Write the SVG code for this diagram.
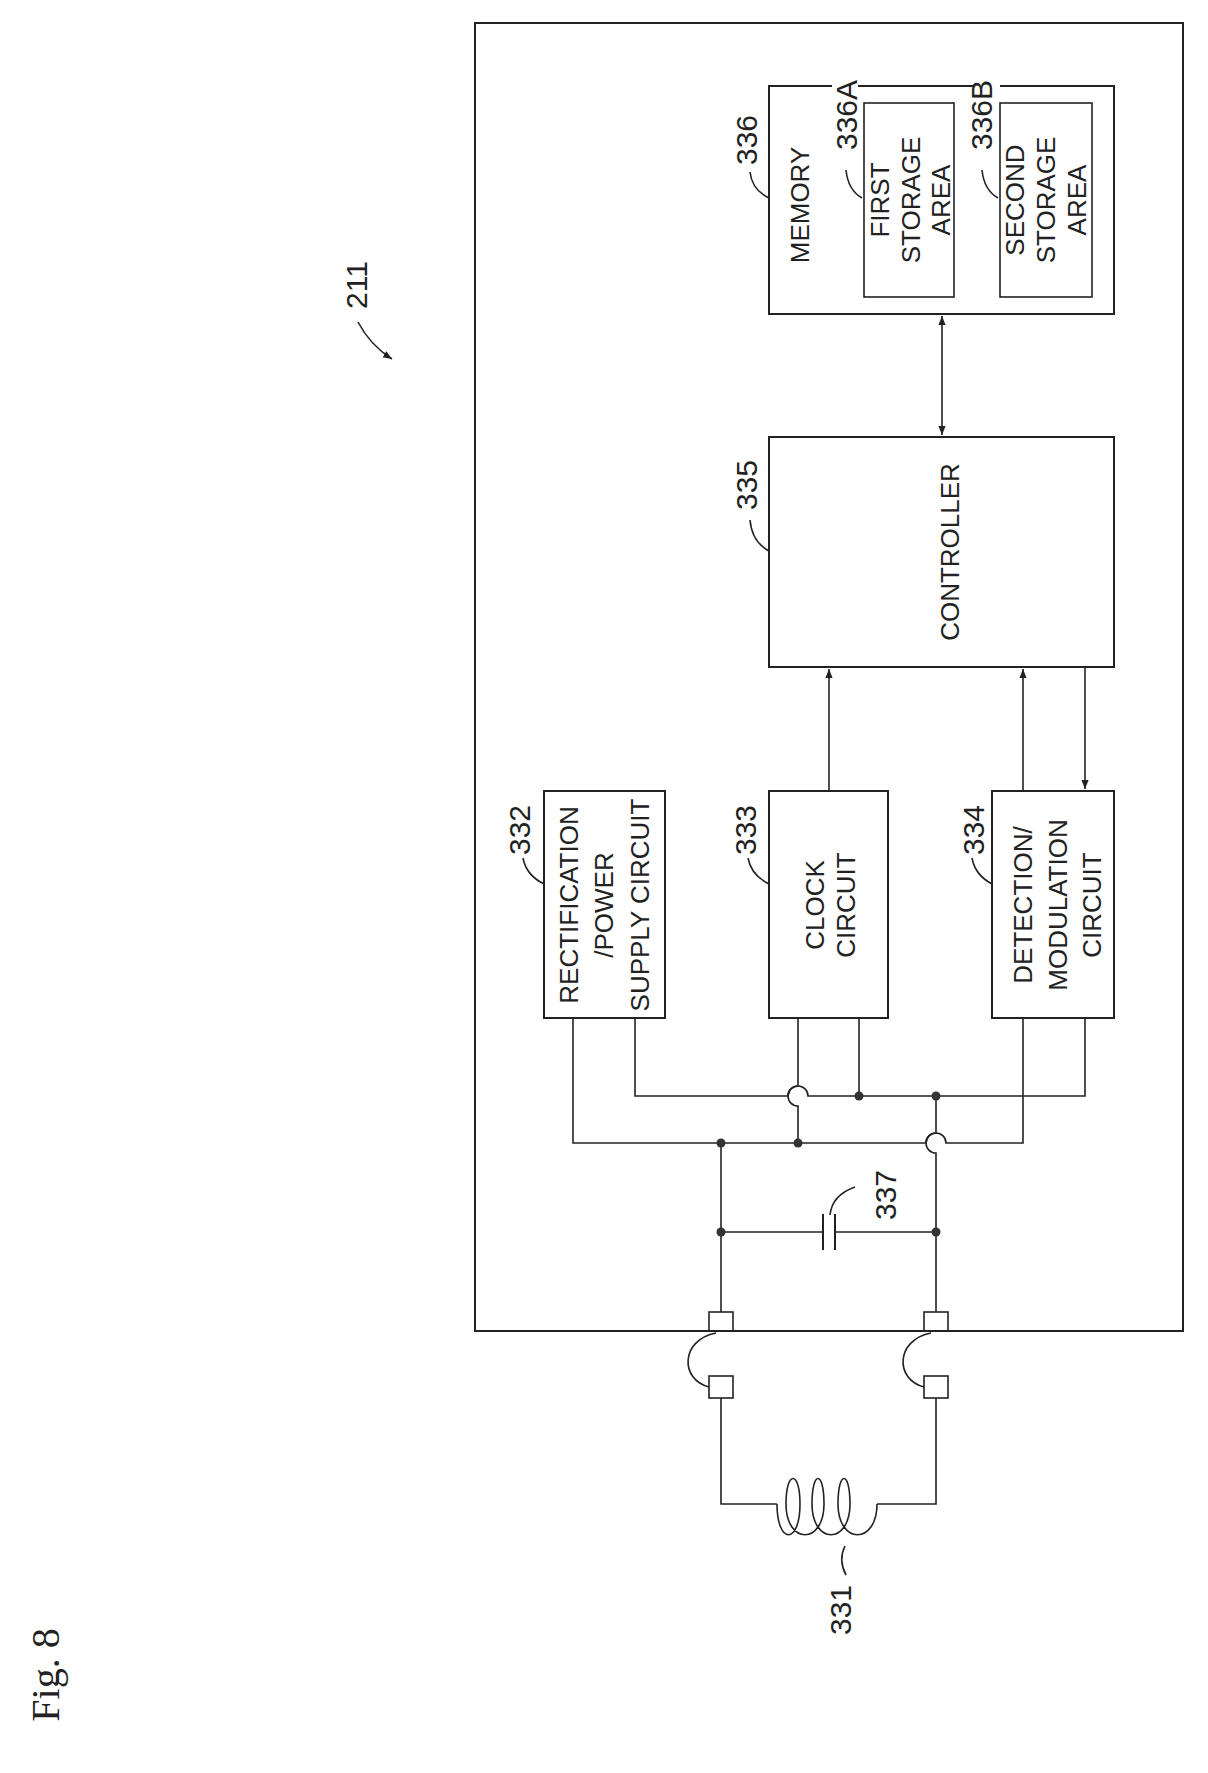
<svg xmlns="http://www.w3.org/2000/svg" width="1208" height="1773" viewBox="0 0 1208 1773">
<defs>
<style>
.b{fill:none;stroke:#222;stroke-width:2}
.w{fill:none;stroke:#222;stroke-width:1.6}
.t{font-family:"Liberation Sans",Arial,sans-serif;font-size:26px;fill:#222;text-anchor:middle;dominant-baseline:central}
.n{font-family:"Liberation Sans",Arial,sans-serif;font-size:30px;fill:#222;text-anchor:middle;dominant-baseline:central}
.d{fill:#333}
</style>
<marker id="a" viewBox="0 0 10 10" refX="10" refY="5" markerWidth="9" markerHeight="9" orient="auto-start-reverse" markerUnits="userSpaceOnUse"><path d="M0,1 L10,5 L0,9 z" fill="#222"/></marker>
</defs>
<rect width="1208" height="1773" fill="#fff"/>
<g id="outer"><rect class="b" x="475" y="23" width="708" height="1308"/></g>
<g id="memory">
<path class="b" d="M815,86 H769 V314 H1114 V86 H1040 M815,86 H832 M858,86 H975 M1000,86 H1040"/>
<text class="t" transform="translate(800,205) rotate(-90)">MEMORY</text>
<text class="n" transform="translate(746,140) rotate(-90)">336</text>
<path class="w" d="M769,198 Q752,190 750,172"/>
</g>
<g id="area336A">
<rect class="w" x="864" y="103" width="90" height="194"/>
<text class="t" transform="translate(880,200) rotate(-90)">FIRST</text>
<text class="t" transform="translate(911,200) rotate(-90)">STORAGE</text>
<text class="t" transform="translate(941,200) rotate(-90)">AREA</text>
<text class="n" transform="translate(846,115) rotate(-90)">336A</text>
<path class="w" d="M862,198 Q848,190 846,170"/>
</g>
<g id="area336B">
<rect class="w" x="1000" y="103" width="92" height="194"/>
<text class="t" transform="translate(1015,200) rotate(-90)">SECOND</text>
<text class="t" transform="translate(1046,200) rotate(-90)">STORAGE</text>
<text class="t" transform="translate(1077,200) rotate(-90)">AREA</text>
<text class="n" transform="translate(981,115) rotate(-90)">336B</text>
<path class="w" d="M998,198 Q984,190 982,170"/>
</g>
<g id="controller">
<rect class="b" x="769" y="437" width="345" height="230"/>
<text class="t" transform="translate(950,552) rotate(-90)">CONTROLLER</text>
<text class="n" transform="translate(746,485) rotate(-90)">335</text>
<path class="w" d="M769,551 Q752,542 750,520"/>
</g>
<g id="rect332">
<rect class="b" x="544" y="791" width="121" height="227"/>
<text class="t" transform="translate(569,905) rotate(-90)">RECTIFICATION</text>
<text class="t" transform="translate(604,905) rotate(-90)">/POWER</text>
<text class="t" transform="translate(640,905) rotate(-90)">SUPPLY CIRCUIT</text>
<text class="n" transform="translate(519,830) rotate(-90)">332</text>
<path class="w" d="M544,884 Q526,875 523,858"/>
</g>
<g id="clock333">
<rect class="b" x="769" y="791" width="119" height="227"/>
<text class="t" transform="translate(815,905) rotate(-90)">CLOCK</text>
<text class="t" transform="translate(846,905) rotate(-90)">CIRCUIT</text>
<text class="n" transform="translate(745,830) rotate(-90)">333</text>
<path class="w" d="M769,884 Q751,875 748,858"/>
</g>
<g id="det334">
<rect class="b" x="992" y="791" width="122" height="227"/>
<text class="t" transform="translate(1023,905) rotate(-90)">DETECTION/</text>
<text class="t" transform="translate(1058,905) rotate(-90)">MODULATION</text>
<text class="t" transform="translate(1092,905) rotate(-90)">CIRCUIT</text>
<text class="n" transform="translate(973,830) rotate(-90)">334</text>
<path class="w" d="M992,884 Q975,875 972,858"/>
</g>
<g id="cap337">
<path class="b" d="M823,1214 V1250 M835,1214 V1250"/>
<text class="n" transform="translate(885,1195) rotate(-90)">337</text>
<path class="w" d="M855,1187 Q832,1195 830,1215"/>
</g>
<g id="coil331">
<path class="w" d="M777,1504 C777,1545 800,1545 800,1504 C800,1470 786,1470 786,1504 C786,1545 824,1545 824,1504 C824,1470 812,1470 812,1504 C812,1545 850,1545 850,1504 C850,1470 838,1470 838,1504 C838,1545 877,1545 877,1504"/>
<text class="n" transform="translate(840,1610) rotate(-90)">331</text>
<path class="w" d="M845,1546 Q838,1560 846,1575"/>
</g>
<g id="label211">
<text class="n" transform="translate(356,285) rotate(-90)">211</text>
<path class="w" d="M358,322 Q370,345 392,359" marker-end="url(#a)"/>
</g>
<text transform="translate(45,1675) rotate(-90)" style="font-family:'Liberation Serif',serif;font-size:40px;fill:#222;text-anchor:middle;dominant-baseline:central">Fig. 8</text>
<g id="connectors">
<path class="w" d="M942,316 V435" marker-start="url(#a)" marker-end="url(#a)"/>
<path class="w" d="M829,791 V669" marker-end="url(#a)"/>
<path class="w" d="M1023,791 V669" marker-end="url(#a)"/>
<path class="w" d="M1085,667 V789" marker-end="url(#a)"/>
<!-- upper bus -->
<path class="w" d="M635,1018 V1096 H788 A10,10 0 0 1 808,1096 H1085 V1018"/>
<!-- lower bus -->
<path class="w" d="M573,1018 V1143 H926 A10,10 0 0 1 946,1143 H1023 V1018"/>
<!-- clock leads -->
<path class="w" d="M798,1018 V1086 A10,10 0 0 0 798,1106 V1143"/>
<path class="w" d="M859,1018 V1096"/>
<!-- verticals -->
<path class="w" d="M721,1143 V1312"/>
<path class="w" d="M936,1096 V1133 A10,10 0 0 0 936,1153 V1312"/>
<path class="w" d="M721,1232 H823 M835,1232 H936"/>
<rect class="w" x="709" y="1312" width="24" height="19"/>
<rect class="w" x="924" y="1312" width="24" height="19"/>
<rect class="w" x="709" y="1376" width="24" height="22"/>
<rect class="w" x="924" y="1376" width="24" height="22"/>
<path class="w" d="M716,1333 C680,1340 680,1380 709,1387"/>
<path class="w" d="M931,1333 C895,1340 895,1380 924,1387"/>
<path class="w" d="M721,1398 V1504 H777 M877,1504 H936 V1398"/>
<circle class="d" cx="721" cy="1143" r="4.5"/>
<circle class="d" cx="798" cy="1143" r="4.5"/>
<circle class="d" cx="859" cy="1096" r="4.5"/>
<circle class="d" cx="936" cy="1096" r="4.5"/>
<circle class="d" cx="721" cy="1232" r="4.5"/>
<circle class="d" cx="936" cy="1232" r="4.5"/>
</g>
</svg>
